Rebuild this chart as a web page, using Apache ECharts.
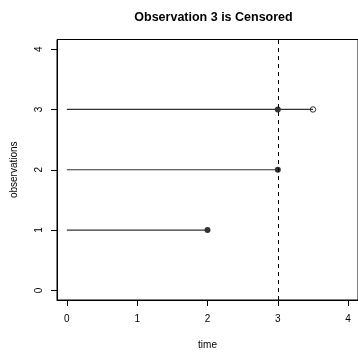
<!DOCTYPE html>
<html>
<head>
<meta charset="utf-8">
<script src="https://cdn.jsdelivr.net/npm/echarts@6/dist/echarts.min.js"></script>
<style>html,body{margin:0;padding:0;background:#fff}#c{width:358px;height:355px}</style>
</head>
<body>
<div id="c"></div>
<script>
var observations = [1, 2, 3];
var startTimes = [0, 0, 0];
var endTimes = [2, 3, 3.5];
var eventTimes = [2, 3, 3];
var censoredObs = [3];
var censoredTimes = [3.5];
var cutoffTime = 3;
var xTicks = [0, 1, 2, 3, 4];
var yTicks = [0, 1, 2, 3, 4];
var titleText = 'Observation 3 is Censored';
var xLabel = 'time';
var yLabel = 'observations';

var FONT = 'Liberation Sans, Arial, sans-serif';
var series = [];
observations.forEach(function (o, i) {
  series.push({
    type: 'line', symbol: 'none', silent: true,
    data: [[startTimes[i], o], [endTimes[i], o]],
    lineStyle: { color: '#333', width: 1.2 }
  });
});
series.push({
  type: 'scatter', symbol: 'circle', symbolSize: 6,
  data: observations.map(function (o, i) { return [eventTimes[i], o]; }),
  itemStyle: { color: '#000' }
});
series.push({
  type: 'scatter', symbol: 'circle', symbolSize: 5.5,
  data: censoredObs.map(function (o, i) { return [censoredTimes[i], o]; }),
  itemStyle: { color: '#fff', borderColor: '#000', borderWidth: 1 },
  markLine: {
    silent: true, symbol: 'none', label: { show: false },
    lineStyle: { color: '#000', type: [4, 4], width: 1 },
    data: [{ xAxis: cutoffTime }]
  }
});

var chart = echarts.init(document.getElementById('c'), null, { renderer: 'canvas' });
chart.setOption({
  animation: false,
  backgroundColor: '#fff',
  textStyle: { fontFamily: FONT },
  title: {
    text: titleText, left: 208.5, textAlign: 'center', top: 6,
    textStyle: { fontFamily: FONT, fontSize: 12.5, fontWeight: 'bold', color: '#000' }
  },
  grid: { left: 57, top: 39.5, width: 303, height: 265.6, containLabel: false,
          show: true, borderColor: '#000', borderWidth: 1, backgroundColor: 'transparent' },
  xAxis: {
    type: 'value', min: -0.14, max: 4.14,
    name: xLabel, nameLocation: 'middle', nameGap: 40,
    nameTextStyle: { fontFamily: FONT, fontSize: 10, color: '#000' },
    axisLine: { show: true, onZero: false, lineStyle: { color: '#000', width: 1 } },
    axisTick: { show: true, length: 6, customValues: xTicks, lineStyle: { color: '#000' } },
    axisLabel: { customValues: xTicks, margin: 14, fontSize: 10, color: '#000', fontFamily: FONT },
    splitLine: { show: false }
  },
  yAxis: {
    type: 'value', min: -0.16, max: 4.16,
    name: yLabel, nameLocation: 'middle', nameGap: 38,
    nameTextStyle: { fontFamily: FONT, fontSize: 10, color: '#000' },
    axisLine: { show: true, onZero: false, lineStyle: { color: '#000', width: 1 } },
    axisTick: { show: true, length: 6, customValues: yTicks, lineStyle: { color: '#000' } },
    axisLabel: { customValues: yTicks, rotate: 90, margin: 13, fontSize: 10, color: '#000', fontFamily: FONT },
    splitLine: { show: false }
  },
  series: series
});
</script>
</body>
</html>
